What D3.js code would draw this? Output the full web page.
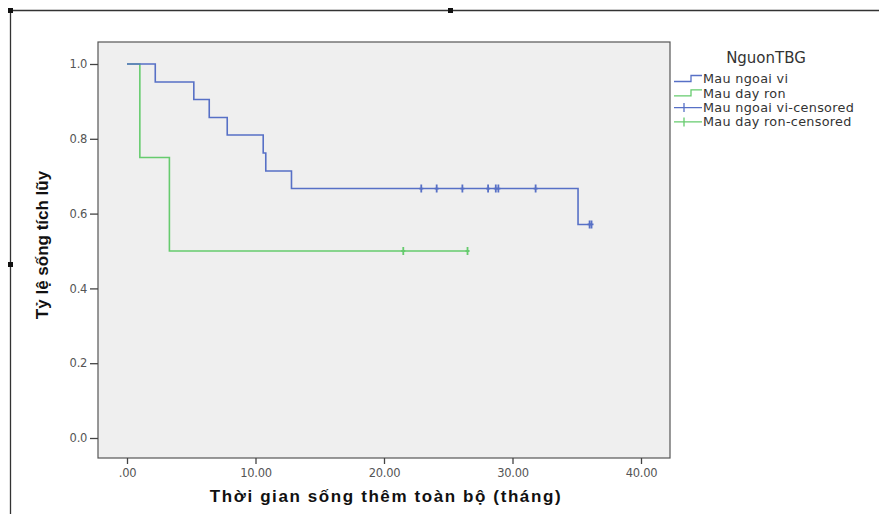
<!DOCTYPE html>
<html lang="vi">
<head>
<meta charset="UTF-8">
<title>Kaplan-Meier</title>
<script src="https://cdn.jsdelivr.net/npm/d3@7/dist/d3.min.js"></script>
<style>
    body { margin: 0; background: #fff; }
    svg { display: block; font-family: "Liberation Sans", Arial, sans-serif; }
</style>
</head>
<body>
<script>
    // step times and survival (Kaplan-Meier)
    var ngoaiTimes = [0, 2.2, 5.2, 6.4, 7.8, 10.6, 10.8, 12.8, 35.1, 36.1];
    var ngoaiSurv = [1.0, 0.952, 0.905, 0.857, 0.810, 0.762, 0.714, 0.667, 0.571, 0.571];
    var ngoaiCensored = [22.9, 24.1, 26.1, 28.1, 28.7, 28.9, 31.8, 36.0, 36.15];

    var dayTimes = [0, 1.0, 3.3, 26.5];
    var daySurv = [1.0, 0.75, 0.5, 0.5];
    var dayCensored = [21.5, 26.5];

    var xTicks = [0, 10, 20, 30, 40];
    var yTicks = [0, 0.2, 0.4, 0.6, 0.8, 1.0];
    var legendTitle = "NguonTBG";
    var legendLabels = ["Mau ngoai vi", "Mau day ron", "Mau ngoai vi-censored", "Mau day ron-censored"];

    var blue = "#5770c6", green = "#66cb6e";

    var width = 879, height = 514;
    var svg = d3.select("body").append("svg")
        .attr("width", width)
        .attr("height", height);

    // outer frame
    svg.append("path")
        .attr("d", "M10.5," + height + "V10.5H" + width)
        .attr("fill", "none")
        .attr("stroke", "#333")
        .attr("stroke-width", 1.3);
    svg.append("rect").attr("x", 8).attr("y", 8).attr("width", 5).attr("height", 5).attr("fill", "#111");
    svg.append("rect").attr("x", 448).attr("y", 8).attr("width", 5).attr("height", 5).attr("fill", "#111");
    svg.append("rect").attr("x", 8).attr("y", 262).attr("width", 5).attr("height", 5).attr("fill", "#111");

    var plot = {left: 98, right: 670, top: 42, bottom: 458};

    var x = d3.scaleLinear().domain([0, 40]).range([127, 641]);
    var y = d3.scaleLinear().domain([0, 1]).range([438, 64]);

    svg.append("rect")
        .attr("x", plot.left)
        .attr("y", plot.top)
        .attr("width", plot.right - plot.left)
        .attr("height", plot.bottom - plot.top)
        .attr("fill", "#efefef")
        .attr("stroke", "#555")
        .attr("stroke-width", 1.2);

    var xAxis = svg.append("g")
        .attr("transform", "translate(0," + plot.bottom + ")")
        .call(d3.axisBottom(x).tickValues(xTicks).tickSize(6).tickSizeOuter(0)
            .tickFormat(function (d) { return d === 0 ? ".00" : d3.format(".2f")(d); }));
    xAxis.select(".domain").remove();
    xAxis.selectAll("line").attr("stroke", "#444").attr("stroke-width", 1.3);
    xAxis.selectAll("text").attr("font-size", "11.5px").attr("fill", "#555").attr("dy", "0.85em")
        .attr("font-family", "DejaVu Sans, sans-serif").attr("letter-spacing", "-0.3px");

    var yAxis = svg.append("g")
        .attr("transform", "translate(" + plot.left + ",0)")
        .call(d3.axisLeft(y).tickValues(yTicks).tickSize(8).tickSizeOuter(0).tickFormat(d3.format(".1f")));
    yAxis.select(".domain").remove();
    yAxis.selectAll("line").attr("stroke", "#444").attr("stroke-width", 1.3);
    yAxis.selectAll("text").attr("font-size", "11.5px").attr("fill", "#555")
        .attr("font-family", "DejaVu Sans, sans-serif").attr("letter-spacing", "-0.3px");

    // axis titles
    svg.append("text")
        .attr("x", 386)
        .attr("y", 502)
        .attr("text-anchor", "middle")
        .attr("font-size", "17px")
        .attr("font-weight", "bold")
        .attr("letter-spacing", "1.6px")
        .attr("fill", "#111")
        .text("Thời gian sống thêm toàn bộ (tháng)");

    svg.append("text")
        .attr("transform", "translate(48,245) rotate(-90)")
        .attr("text-anchor", "middle")
        .attr("font-size", "17px")
        .attr("font-weight", "bold")
        .attr("fill", "#111")
        .text("Tỷ lệ sống tích lũy");

    // survival curves
    var line = d3.line()
        .x(function (d) { return x(d[0]); })
        .y(function (d) { return y(d[1]); })
        .curve(d3.curveStepAfter);

    function survAt(times, surv, t) {
        var s = surv[0];
        for (var i = 0; i < times.length; i++) {
            if (times[i] <= t) s = surv[i];
        }
        return s;
    }

    function drawGroup(times, surv, censored, color) {
        svg.append("path")
            .datum(d3.zip(times, surv))
            .attr("fill", "none")
            .attr("stroke", color)
            .attr("stroke-width", 1.6)
            .attr("d", line);
        censored.forEach(function (t) {
            var cx = x(t), cy = y(survAt(times, surv, t));
            svg.append("path")
                .attr("d", "M" + cx + "," + (cy - 4) + "V" + (cy + 4) + "M" + (cx - 2) + "," + cy + "H" + (cx + 2))
                .attr("stroke", color).attr("stroke-width", 1.8);
        });
    }

    drawGroup(dayTimes, daySurv, dayCensored, green);
    drawGroup(ngoaiTimes, ngoaiSurv, ngoaiCensored, blue);

    // legend
    var legend = svg.append("g").attr("font-family", "DejaVu Sans, sans-serif");
    legend.append("text")
        .attr("x", 766)
        .attr("y", 63)
        .attr("text-anchor", "middle")
        .attr("font-size", "15px")
        .attr("fill", "#333")
        .text(legendTitle);

    var colors = [blue, green, blue, green];
    legendLabels.forEach(function (label, i) {
        var ly = 79 + i * 14.3;
        if (i < 2) {
            legend.append("path")
                .attr("d", "M674," + (ly + 2.5) + "H691V" + (ly - 3.5) + "H702")
                .attr("fill", "none")
                .attr("stroke", colors[i])
                .attr("stroke-width", 1.3);
        } else {
            legend.append("path")
                .attr("d", "M674," + ly + "H702M684," + (ly - 4.5) + "V" + (ly + 4.5))
                .attr("fill", "none")
                .attr("stroke", colors[i])
                .attr("stroke-width", 1.3);
        }
        legend.append("text")
            .attr("x", 703)
            .attr("y", ly)
            .attr("dy", "0.35em")
            .attr("font-size", "12.8px")
            .attr("letter-spacing", "0.3px")
            .attr("fill", "#333")
            .text(label);
    });
</script>
</body>
</html>
